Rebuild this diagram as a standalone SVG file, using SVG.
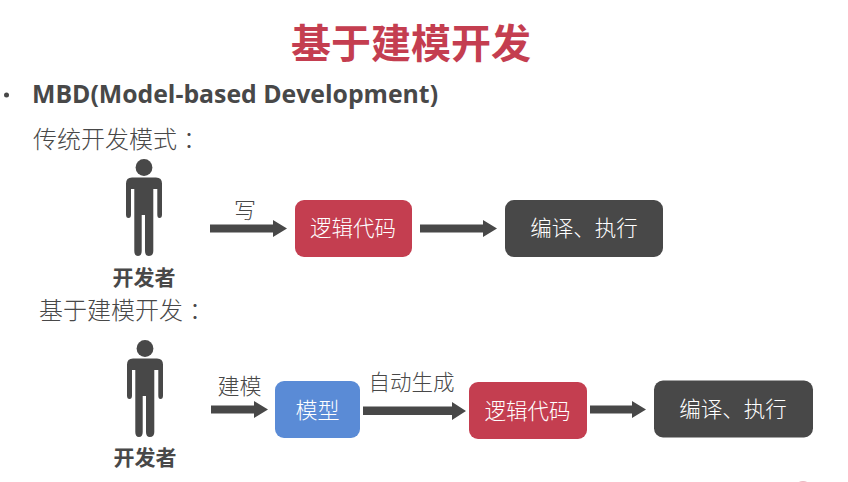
<svg xmlns="http://www.w3.org/2000/svg" width="848" height="482" viewBox="0 0 848 482">
<style>
text{font-family:"Noto Sans CJK SC","Noto Sans",sans-serif;fill:#484848}
.box{font-size:21.500px;fill:#fff;text-anchor:middle;font-weight:300}
.lab{font-size:21.500px;text-anchor:middle;font-weight:300}
.h{font-size:24px;font-weight:300}
.dev{font-size:21px;font-weight:700;text-anchor:middle}
.red{fill:#c43e50}.dark{fill:#484848}.blue{fill:#5a8bd6}
</style>
<defs>
<g id="person" fill="#484848">
<circle cx="18" cy="7.500" r="8.400"/>
<path d="M6 17.500H30Q36 17.500 36 23.500V54.500Q36 58 33.500 58Q31.300 58 31.300 54.500V29H27.300V91Q27.300 96 22.800 96Q19 96 19 91V55H15.700V91Q15.700 96 12 96Q8.300 96 8.300 91V29H5V54.500Q5 58 2.500 58Q0 58 0 54.500V23.500Q0 17.500 6 17.500Z"/>
</g>
</defs>
<text x="411" y="58" font-size="40" font-weight="700" text-anchor="middle" style="fill:#c43e50">基于建模开发</text>
<circle cx="6.500" cy="95" r="2.500" class="dark"/>
<text x="32" y="103" font-size="24.800" font-weight="700" style="font-family:'Open Sans','Noto Sans',sans-serif">MBD(Model-based Development)</text>
<text x="33" y="148" class="h">传统开发模式<tspan dx="6">：</tspan></text>
<text x="39" y="319" class="h">基于建模开发<tspan dx="6">：</tspan></text>
<g id="connectors" class="dark">
<path d="M210 224.500H273V220L287 228.500L273 237V232.500H210Z"/>
<path d="M420 224.500H483V220L497 228.500L483 237V232.500H420Z"/>
<path d="M211 405.500H254V401L268 409.500L254 418V413.500H211Z"/>
<path d="M363 406.500H452V402L466 411L452 420V415H363Z"/>
<path d="M590 405.500H632V401L646 409.500L632 418V413.500H590Z"/>
</g>
<g id="dev1"><use href="#person" x="126" y="160"/><text x="144" y="285" class="dev">开发者</text></g>
<g id="dev2"><use href="#person" x="127" y="341"/><text x="145" y="465" class="dev">开发者</text></g>
<g id="label-write"><text x="245" y="218" class="lab" style="font-size:22px">写</text></g>
<g id="label-model"><text x="239.500" y="394" class="lab" style="font-size:22px">建模</text></g>
<g id="label-auto"><text x="411.500" y="389.500" class="lab">自动生成</text></g>
<g id="code1"><rect x="295" y="200" width="117" height="57" rx="9" class="red"/><text x="353" y="236" class="box">逻辑代码</text></g>
<g id="run1"><rect x="505" y="200" width="158" height="57" rx="9" class="dark"/><text x="584" y="236" class="box">编译、执行</text></g>
<g id="model"><rect x="275" y="381" width="85" height="57" rx="9" class="blue"/><text x="317.500" y="418" class="box" style="font-size:22px">模型</text></g>
<g id="code2"><rect x="469" y="382" width="118" height="57" rx="9" class="red"/><text x="527.500" y="419" class="box">逻辑代码</text></g>
<g id="run2"><rect x="654" y="380.500" width="159" height="57" rx="9" class="dark"/><text x="733" y="417" class="box">编译、执行</text></g>
<circle cx="803" cy="490" r="9" fill="#e9b9c1"/>
</svg>
